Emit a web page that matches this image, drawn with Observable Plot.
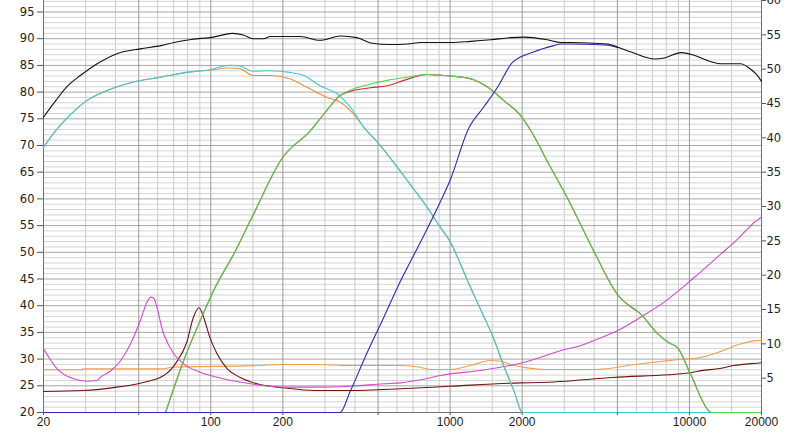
<!DOCTYPE html>
<html>
<head>
<meta charset="utf-8">
<script src="https://cdn.jsdelivr.net/npm/d3@7"></script>
<script src="https://cdn.jsdelivr.net/npm/@observablehq/plot@0.6"></script>
<style>
  html, body { margin: 0; padding: 0; background: #fff; }
  #chart { width: 800px; height: 436px; overflow: hidden; }
</style>
</head>
<body>
<div id="chart"></div>
<script>
// ---------- tick labels / grid ----------
const xTicks = [20, 50, 100, 200, 500, 1000, 2000, 5000, 10000, 20000];
const xMinor = [30, 40, 60, 70, 80, 90, 150, 300, 400, 600, 700, 800, 900, 1500, 3000, 4000, 6000, 7000, 8000, 9000, 15000];
const yTicksLeft = [20, 25, 30, 35, 40, 45, 50, 55, 60, 65, 70, 75, 80, 85, 90, 95];
const yMinorLeft = d3.range(21, 98).filter(v => v % 5 !== 0);
const yTicksRight = [5, 10, 15, 20, 25, 30, 35, 40, 45, 50, 55, 60];

// ---------- SPL series (left axis, dB) ----------
const totalF  = [20, 22.5, 25.3, 28.5, 33.5, 40.6, 50.7, 61.9, 70.2, 82.9, 102.6, 123, 137, 150, 166, 177, 236, 286, 348, 408, 466, 565, 662, 754, 1004, 1217, 1477, 1792, 2035, 2548, 2904, 3188, 4561, 5025, 5712, 7140, 7860, 9240, 10460, 12300, 13550, 16410, 17500, 19880, 20000];
const totalDb = [75.3, 78.4, 81.2, 83.1, 85.3, 87.2, 88.1, 88.7, 89.3, 89.85, 90.3, 91.0, 90.7, 90.0, 90.0, 90.4, 90.4, 89.7, 90.5, 90.2, 89.2, 88.9, 89.0, 89.3, 89.3, 89.5, 89.8, 90.2, 90.3, 89.8, 89.3, 89.3, 89.0, 88.4, 87.5, 86.2, 86.4, 87.4, 86.9, 85.7, 85.3, 85.3, 84.7, 82.2, 82.0];

const wooferAF  = [20, 22.5, 25.3, 30.3, 36.9, 47.5, 61.9, 79.4, 99, 120, 132, 150, 177, 214, 245, 286, 337, 383, 436, 500, 600, 700, 800, 900, 1000, 1100, 1200, 1350, 1500, 1700, 1850, 2006, 20000];
const wooferADb = [69.7, 72.8, 75.3, 78.4, 80.3, 81.9, 82.8, 83.7, 84.2, 85.0, 84.9, 83.9, 84.0, 83.7, 83.1, 81.2, 79.7, 77.2, 73.4, 70.5, 66, 62, 58.5, 55, 52, 48, 44, 39, 34.5, 28, 24, 20, 20];

const wooferBF  = [20, 22.5, 25.3, 30.3, 36.9, 47.5, 61.9, 79.4, 99, 120, 132, 150, 177, 214, 245, 306, 348, 393, 436, 500, 600, 700, 800, 900, 1000, 1100, 1200, 1350, 1500, 1700, 1850, 2006, 20000];
const wooferBDb = [69.7, 72.8, 75.3, 78.4, 80.3, 81.9, 82.8, 83.7, 84.1, 84.5, 84.4, 83.1, 83.1, 82.5, 81.2, 79.0, 78.1, 76.0, 73.4, 70.5, 66, 62, 58.5, 55, 52, 48, 44, 39, 34.5, 28, 24, 20, 20];

const midAF  = [64.7, 77, 90.3, 104.5, 124.8, 146.6, 200, 261, 297, 348, 393, 466, 547, 640, 801, 942, 1073, 1255, 1428, 1677, 1971, 2172, 2550, 3128, 3975, 5045, 6234, 7340, 8160, 8900, 10080, 11990, 12300, 20000];
const midADb = [20, 29.7, 37.2, 43.5, 49.7, 56, 67.8, 72.8, 75.9, 79.4, 80.6, 81.5, 82.2, 82.7, 83.3, 83.1, 82.9, 82.3, 81.0, 78.4, 75.6, 72.8, 67, 59.7, 50.3, 41.9, 38.5, 34.8, 33.1, 32.2, 27.3, 20.4, 20, 20];

const midBF  = [64.7, 77, 90.3, 104.5, 124.8, 146.6, 200, 261, 297, 348, 393, 466, 547, 640, 801, 942, 1073, 1255, 1428, 1677, 1971, 2172, 2550, 3128, 3975, 5045, 5600, 6234, 7340, 8160, 8900, 10080, 11990, 12300];
const midBDb = [20, 29.7, 37.2, 43.5, 49.7, 56, 67.8, 72.8, 75.9, 79.4, 80.3, 80.8, 81.2, 82.2, 83.3, 83.1, 82.9, 82.3, 81.0, 78.4, 75.6, 72.8, 67, 59.7, 50.3, 41.9, 40.0, 38.5, 34.8, 33.1, 32.2, 27.3, 20.4, 20];

const tweeterF  = [20, 347, 381, 448, 528, 622, 754, 900, 1000, 1192, 1382, 1578, 1825, 2228, 2715, 2904, 3188, 4000, 4561, 5025];
const tweeterDb = [20, 20, 23.8, 31.0, 37.8, 44.7, 52, 59, 63.5, 73.1, 77.2, 80.9, 85.6, 87.5, 88.7, 89.0, 89.0, 88.9, 88.8, 88.3];

// ---------- impedance series (right axis, ohm) ----------
const impAF   = [20, 22.8, 26.7, 30.4, 33.5, 34.6, 38, 41.9, 46.2, 50.9, 54, 56.3, 57.5, 63.5, 70, 77, 90.3, 106.2, 146.6, 201, 276, 381, 527, 622, 754, 912, 1004, 1340, 1623, 1971, 2393, 2904, 3524, 4000, 5000, 6400, 8000, 10500, 13550, 15400, 17500, 18670, 19880, 20000];
const impAOhm = [9.28, 6.36, 4.9, 4.56, 4.66, 5.14, 6.0, 7.5, 10, 13.5, 16, 16.8, 16.7, 11.46, 8.55, 7.09, 5.87, 5.14, 4.18, 3.69, 3.69, 3.83, 4.18, 4.32, 4.76, 5.39, 5.63, 6.12, 6.6, 7.18, 8.05, 9.03, 9.76, 10.5, 11.9, 14.1, 16.3, 19.7, 23.1, 24.8, 26.75, 27.7, 28.4, 28.5];

const impBF   = [20, 29, 29.3, 64, 68, 160, 200, 276, 381, 620, 751, 828, 1003, 1215, 1474, 1622, 1785, 2096, 2541, 3978, 6234, 8900, 11240, 13550, 16410, 19880, 20000];
const impBOhm = [6.22, 6.22, 6.36, 6.36, 6.6, 6.84, 6.99, 6.99, 6.84, 6.85, 6.6, 6.26, 6.26, 6.84, 7.57, 7.47, 6.99, 6.5, 6.26, 6.26, 7.1, 7.7, 8.05, 8.9, 10.0, 10.5, 10.5];

const impCF   = [20, 29.3, 40.5, 50.7, 56.3, 59.8, 63.5, 65.1, 71.8, 79.3, 84.6, 89.4, 93.3, 99, 106.2, 117.2, 132.1, 156, 201, 276, 381, 620, 1003, 1971, 2378, 4800, 10080, 11240, 13400, 15300, 19880, 20000];
const impCOhm = [3.06, 3.2, 3.69, 4.27, 4.66, 4.9, 5.39, 5.63, 7.3, 10.2, 13.88, 15.25, 13.88, 10.97, 8.55, 6.36, 5.14, 4.18, 3.6, 3.2, 3.2, 3.45, 3.83, 4.32, 4.37, 5.1, 5.8, 6.1, 6.4, 6.84, 7.24, 7.25];

// ---------- scales ----------
const Y_MIN = 20;
const Y_MAX = 20 + 412 / 5.34;       // left axis top (dB)
const OHM_MAX = 60;                  // right axis top (ohm)
const K = (Y_MAX - Y_MIN) / OHM_MAX;
const ohmToDb = o => Y_MIN + o * K;

const spl = (F, V) => F.map((f, i) => ({f, v: V[i]}));
const imp = (F, V) => F.map((f, i) => ({f, v: ohmToDb(V[i])}));

const line = (data, stroke, extra = {}) =>
  Plot.line(data, {x: "f", y: "v", stroke, strokeWidth: 1.1, curve: "monotone-x", ...extra});

const chart = Plot.plot({
  width: 800,
  height: 436,
  marginTop: 0,
  marginBottom: 24,
  marginLeft: 43,
  marginRight: 39,
  style: {background: "#fff", fontFamily: "DejaVu Sans", fontSize: "11px", color: "#222", overflow: "visible"},
  x: {type: "log", domain: [20, 20000], label: null},
  y: {domain: [Y_MIN, Y_MAX], label: null},
  marks: [
    Plot.ruleY(yMinorLeft, {stroke: "#d4d4d4", strokeWidth: 1}),
    Plot.ruleX(xMinor, {stroke: "#cdcdcd", strokeWidth: 1}),
    Plot.ruleY(yTicksLeft, {stroke: "#a6a6a6", strokeWidth: 1}),
    Plot.ruleX(xTicks, {stroke: "#9a9a9a", strokeWidth: 1}),
    Plot.ruleX([20, 20000], {stroke: "#707070"}),
    Plot.ruleY([20], {stroke: "#707070"}),

    line(imp(impBF, impBOhm), "#eda04c"),
    line(imp(impCF, impCOhm), "#6e1414"),
    line(imp(impAF, impAOhm), "#d24ad2"),

    line(spl(wooferBF, wooferBDb), "#e8923e"),
    line(spl(wooferAF, wooferADb), "#40c8dc"),
    line(spl(midBF, midBDb), "#c83030"),
    line(spl(midAF, midADb), "#52d352"),
    line(spl(tweeterF, tweeterDb), "#2a2ab8"),
    line(spl(totalF, totalDb), "#111"),

    Plot.axisX(xTicks, {label: null, tickSize: 3, tickPadding: 2, tickFormat: d => String(d), fontFamily: "Liberation Sans Narrow, Liberation Sans", fontSize: 12, stroke: "#555"}),
    Plot.axisY(yTicksLeft, {label: null, anchor: "left", tickSize: 6, tickPadding: 3, tickFormat: d => String(d), fontSize: 11.5, stroke: "#555"}),
    Plot.axisY(yTicksRight.map(ohmToDb), {label: null, anchor: "right", tickSize: 4, tickPadding: 1, tickFormat: v => String(Math.round((v - Y_MIN) / K)), fontSize: 11.5, stroke: "#555"})
  ]
});

document.getElementById("chart").appendChild(chart);
</script>
</body>
</html>
